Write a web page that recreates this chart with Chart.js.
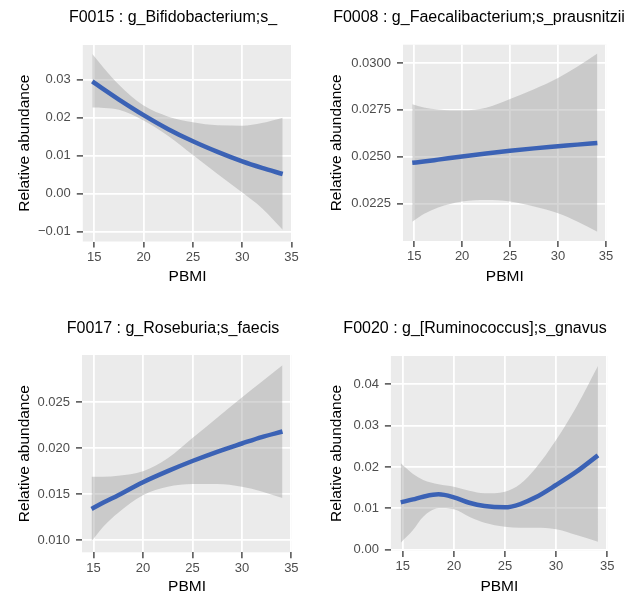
<!DOCTYPE html>
<html>
<head>
<meta charset="utf-8">
<script src="https://cdn.jsdelivr.net/npm/chart.js@4.4.1/dist/chart.umd.min.js"></script>
<style>
  html, body { margin: 0; padding: 0; background: #fff; }
  #wrap { position: relative; width: 625px; height: 600px; }
  #wrap canvas { position: absolute; }
</style>
</head>
<body>
<div id="wrap">
  <canvas id="p1" width="312" height="300" style="left:0;top:0"></canvas>
  <canvas id="p2" width="313" height="300" style="left:312px;top:0"></canvas>
  <canvas id="p3" width="312" height="300" style="left:0;top:300px"></canvas>
  <canvas id="p4" width="313" height="300" style="left:312px;top:300px"></canvas>
</div>
<script>
// x ticks shared by all panels
var xTicks = [15, 20, 25, 30, 35];

// F0015 : g_Bifidobacterium;s_
var x1 = [14.8, 16, 17.5, 20, 22.5, 25, 27.5, 30, 32, 34.1];
var fit1 = [0.0296, 0.0274, 0.0248, 0.0207, 0.0170, 0.0138, 0.0110, 0.0085, 0.0068, 0.0052];
var hi1 = [0.0368, 0.0330, 0.0287, 0.0232, 0.0203, 0.0188, 0.0180, 0.0179, 0.0186, 0.0200];
var lo1 = [0.0227, 0.0226, 0.0221, 0.0193, 0.0152, 0.0102, 0.0052, 0.0003, -0.0038, -0.0095];
var yTicks1 = [-0.01, 0, 0.01, 0.02, 0.03];

// F0008 : g_Faecalibacterium;s_prausnitzii
var x2 = [14.8, 16, 17.5, 20, 22.5, 25, 27.5, 30, 32, 34.1];
var fit2 = [0.02468, 0.02475, 0.02485, 0.02502, 0.02518, 0.02532, 0.02545, 0.02556, 0.02565, 0.02574];
var hi2 = [0.02780, 0.02763, 0.02752, 0.02748, 0.02762, 0.02808, 0.02860, 0.02920, 0.02980, 0.03050];
var lo2 = [0.02154, 0.02195, 0.02230, 0.02262, 0.02270, 0.02262, 0.02235, 0.02199, 0.02155, 0.02101];
var yTicks2 = [0.0225, 0.025, 0.0275, 0.03];

// F0017 : g_Roseburia;s_faecis
var x3 = [14.8, 16, 17.5, 20, 22.5, 25, 27.5, 30, 32, 34.1];
var fit3 = [0.0134, 0.0141, 0.0149, 0.0163, 0.0175, 0.0186, 0.0196, 0.0205, 0.0212, 0.0218];
var hi3 = [0.0169, 0.0169, 0.0170, 0.0175, 0.0189, 0.0211, 0.0233, 0.0255, 0.0272, 0.0290];
var lo3 = [0.0099, 0.0115, 0.0130, 0.0149, 0.0158, 0.0161, 0.0161, 0.0158, 0.0153, 0.0146];
var yTicks3 = [0.010, 0.015, 0.020, 0.025];

// F0020 : g_[Ruminococcus];s_gnavus
var x4 = [14.8, 16, 17, 18.5, 20, 21.5, 23, 25, 26.5, 28, 30, 32, 34.1];
var fit4 = [0.01146, 0.01218, 0.01283, 0.01339, 0.01267, 0.01137, 0.01057, 0.01025, 0.01105, 0.01267, 0.01565, 0.01887, 0.02282];
var hi4 = [0.02089, 0.01831, 0.01686, 0.01581, 0.01524, 0.01427, 0.01364, 0.01403, 0.01589, 0.01969, 0.02653, 0.03458, 0.04443];
var lo4 = [0.00169, 0.00476, 0.00798, 0.01001, 0.00977, 0.00798, 0.00653, 0.00556, 0.00532, 0.00532, 0.00493, 0.00355, 0.00194];
var yTicks4 = [0, 0.01, 0.02, 0.03, 0.04];

Chart.defaults.font.family = '"Liberation Sans", Arial, sans-serif';

var panelBg = {
  id: "panelBg",
  beforeDraw: function (chart) {
    var a = chart.chartArea, c = chart.ctx;
    c.save();
    c.fillStyle = "#EBEBEB";
    c.fillRect(a.left, a.top, a.right - a.left, a.bottom - a.top);
    c.restore();
  },
};

var panelTitle = {
  id: "panelTitle",
  afterDraw: function (chart, args, opts) {
    var c = chart.ctx;
    c.save();
    c.font = '16px "Liberation Sans", Arial, sans-serif';
    c.fillStyle = "#000";
    c.textAlign = "center";
    c.textBaseline = "alphabetic";
    c.fillText(opts.text, opts.x, opts.y);
    c.restore();
  },
};

function pts(xs, ys) {
  return xs.map(function (x, i) { return { x: x, y: ys[i] }; });
}

function fmt(d) {
  return function (v) {
    var s = Math.abs(v).toFixed(d);
    return v < -1e-12 ? "\u2212" + s : s;
  };
}

function panel(id, o) {
  var cv = document.getElementById(id);
  var W = cv.width, H = cv.height;
  new Chart(cv, {
    type: "line",
    data: {
      datasets: [
        // band: lower edge, then upper edge filled down to it
        { data: pts(o.x, o.lo), order: 1, borderColor: "rgba(0,0,0,0)", borderWidth: 0, pointRadius: 0, fill: false, cubicInterpolationMode: "monotone" },
        { data: pts(o.x, o.hi), order: 1, borderColor: "rgba(0,0,0,0)", borderWidth: 0, pointRadius: 0, fill: "-1", backgroundColor: "rgba(153,153,153,0.4)", cubicInterpolationMode: "monotone" },
        // fitted line on top
        { data: pts(o.x, o.fit), order: 0, borderColor: "#3B62B5", borderWidth: 4.5, pointRadius: 0, fill: false, cubicInterpolationMode: "monotone", borderCapStyle: "butt" },
      ],
    },
    options: {
      responsive: false,
      animation: false,
      events: [],
      layout: { padding: { top: o.area[2], right: W - o.area[1], left: 0, bottom: 0 } },
      plugins: {
        legend: { display: false },
        tooltip: { enabled: false },
        panelTitle: { text: o.title, x: o.tx, y: o.ty },
      },
      scales: {
        x: {
          type: "linear",
          min: o.xr[0],
          max: o.xr[1],
          afterFit: function (s) { s.height = H - o.area[3]; },
          afterBuildTicks: function (s) { s.ticks = xTicks.map(function (v) { return { value: v }; }); },
          grid: { color: "#FFFFFF", lineWidth: 1.8, tickColor: "#333333", tickLength: 6, tickWidth: 1.3 },
          border: { display: false },
          ticks: { color: "#4D4D4D", font: { size: 13 }, padding: 2, maxRotation: 0, autoSkip: false, callback: function (v) { return String(v); } },
          title: { display: true, text: "PBMI", color: "#000", font: { size: 15.5 }, padding: { top: 0, bottom: o.xtp } },
        },
        y: {
          type: "linear",
          min: o.yr[0],
          max: o.yr[1],
          afterFit: function (s) { s.width = o.area[0]; },
          afterBuildTicks: function (s) { s.ticks = o.yTicks.map(function (v) { return { value: v }; }); },
          grid: { color: "#FFFFFF", lineWidth: 1.8, tickColor: "#333333", tickLength: 6, tickWidth: 1.3 },
          border: { display: false },
          ticks: { color: "#4D4D4D", font: { size: 13 }, padding: 6, autoSkip: false, callback: fmt(o.dec) },
          title: { display: true, text: "Relative abundance", color: "#000", font: { size: 15.5 }, padding: { top: 15, bottom: 0 } },
        },
      },
    },
    plugins: [panelBg, panelTitle],
  });
}

panel("p1", {
  x: x1, fit: fit1, lo: lo1, hi: hi1, yTicks: yTicks1, dec: 2,
  title: "F0015 : g_Bifidobacterium;s_", tx: 173, ty: 21.7,
  area: [82.8, 292.2, 45, 241.5], xr: [13.835, 35.065], yr: [-0.01258, 0.03916], xtp: 14,
});
panel("p2", {
  x: x2, fit: fit2, lo: lo2, hi: hi2, yTicks: yTicks2, dec: 4,
  title: "F0008 : g_Faecalibacterium;s_prausnitzii", tx: 167, ty: 21.7,
  area: [91, 294.6, 44.7, 241], xr: [13.835, 35.065], yr: [0.020516, 0.030973], xtp: 14,
});
panel("p3", {
  x: x3, fit: fit3, lo: lo3, hi: hi3, yTicks: yTicks3, dec: 3,
  title: "F0017 : g_Roseburia;s_faecis", tx: 173, ty: 32.7,
  area: [82, 292, 55, 252.3], xr: [13.835, 35.065], yr: [0.0087, 0.0301], xtp: 3.7,
});
panel("p4", {
  x: x4, fit: fit4, lo: lo4, hi: hi4, yTicks: yTicks4, dec: 2,
  title: "F0020 : g_[Ruminococcus];s_gnavus", tx: 163, ty: 32.7,
  area: [78.9, 295.8, 56, 251], xr: [13.835, 35.065], yr: [-0.0003, 0.04684], xtp: 3.7,
});
</script>
</body>
</html>
